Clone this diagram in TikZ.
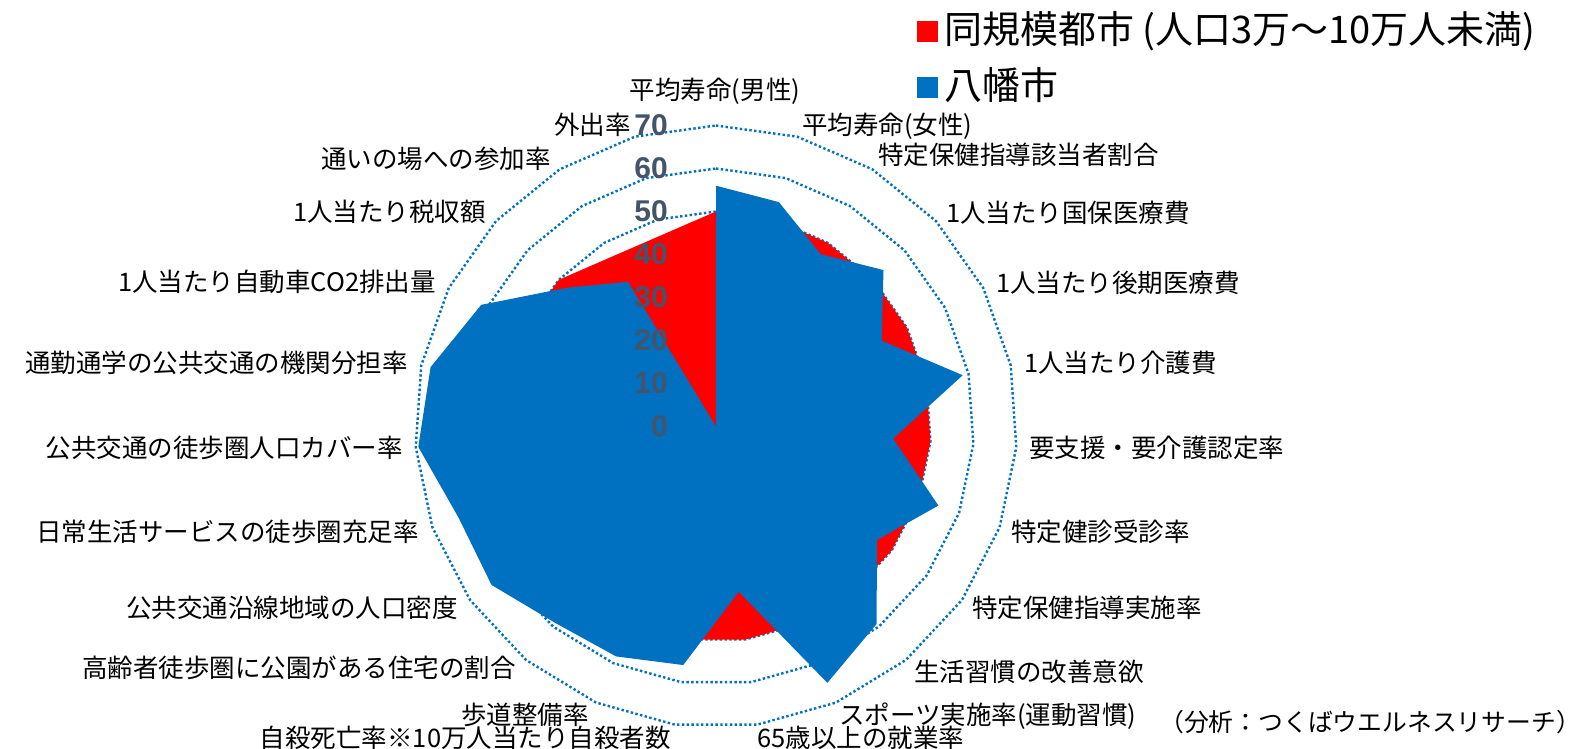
\documentclass[tikz,border=0pt]{standalone}
\usepackage{fontspec}
\newfontfamily\jpfont{Noto Sans CJK JP}
\newfontfamily\numfont{Liberation Sans}
\definecolor{yawata}{RGB}{0,112,192}
\definecolor{peer}{RGB}{255,0,0}
\definecolor{ticktext}{RGB}{68,84,106}
\tikzset{
  gridline/.style={yawata, line width=2.4pt, dash pattern=on 2.4pt off 2.4pt},
  catlabel/.style={inner sep=0pt, font=\jpfont\fontsize{25.5}{30}\selectfont},
  ticklabel/.style={inner sep=0pt, anchor=east, text=ticktext, font=\numfont\bfseries\fontsize{30}{34}\selectfont},
  legendtext/.style={inner sep=0pt, anchor=base west, font=\jpfont\fontsize{38}{42}\selectfont},
  legendkey/.style={inner sep=0pt, minimum size=21pt},
}
\def\unitr{4.3}

\begin{document}
\begin{tikzpicture}[x=1pt, y=-1pt]
  \useasboundingbox (0,0) rectangle (1583,748);
  \fill[white] (0,0) rectangle (1583,748);
  \begin{scope}[shift={(716,426.5)}]
    % grid polygons, 23 axes
    \foreach \r in {10,20,...,70} {
        \draw[gridline] (-90:{\r*\unitr}) \foreach \k in {1,...,22} { -- ({-90+\k*360/23}:{\r*\unitr}) } -- cycle;
      }
    % same-size cities
    \fill[peer] (-90:{50*\unitr})
      \foreach \v [count=\i from 0] in {50,50,50,50,50,50,50,50,50,50,50,50,50,50,50,50,50,50,50,50,50,46.3,46.3} {
        -- ({-90+\i*360/23}:{\v*\unitr})
      } -- cycle;
    % Yawata
    \fill[yawata] (-90:{56*\unitr})
      \foreach \v [count=\i from 0] in {56.0,54.2,46.9,53.3,43.4,58.6,41.3,54.9,45.8,59.2,65.0,38.8,56.0,58.3,59.0,63.9,63.5,69.4,67.8,61.5,47.3,39.4,0} {
        -- ({-90+\i*360/23}:{\v*\unitr})
      } -- cycle;
  \end{scope}
  % value axis
  \foreach \t in {0,10,...,70} {
      \node[ticklabel] (tick\t) at (668, {426.5-\t*\unitr}) {\t};
    }
  % category labels
  \node[catlabel, anchor=base] (lab0) at (715,99.5) {平均寿命(男性)};
  \node[catlabel, anchor=base west] (lab1) at (802,134.5) {平均寿命(女性)};
  \node[catlabel, anchor=base west] (lab2) at (878,164.5) {特定保健指導該当者割合};
  \node[catlabel, anchor=base west] (lab3) at (946,222.5) {1人当たり国保医療費};
  \node[catlabel, anchor=base west] (lab4) at (996,292.5) {1人当たり後期医療費};
  \node[catlabel, anchor=base west] (lab5) at (1024,372.5) {1人当たり介護費};
  \node[catlabel, anchor=base west] (lab6) at (1029,457.5) {要支援・要介護認定率};
  \node[catlabel, anchor=base west] (lab7) at (1011,541.5) {特定健診受診率};
  \node[catlabel, anchor=base west] (lab8) at (972,617.5) {特定保健指導実施率};
  \node[catlabel, anchor=base west] (lab9) at (914,681.5) {生活習慣の改善意欲};
  \node[catlabel, anchor=base west] (lab10) at (839,724.5) {スポーツ実施率(運動習慣)};
  \node[catlabel, anchor=base west] (lab11) at (757,747.5) {65歳以上の就業率};
  \node[catlabel, anchor=base east] (lab12) at (671,747.5) {自殺死亡率※10万人当たり自殺者数};
  \node[catlabel, anchor=base east] (lab13) at (589,724.5) {歩道整備率};
  \node[catlabel, anchor=base east] (lab14) at (516,677.5) {高齢者徒歩圏に公園がある住宅の割合};
  \node[catlabel, anchor=base east] (lab15) at (458,617.5) {公共交通沿線地域の人口密度};
  \node[catlabel, anchor=base east] (lab16) at (419,541.5) {日常生活サービスの徒歩圏充足率};
  \node[catlabel, anchor=base east] (lab17) at (403,457.5) {公共交通の徒歩圏人口カバー率};
  \node[catlabel, anchor=base east] (lab18) at (408,372.5) {通勤通学の公共交通の機関分担率};
  \node[catlabel, anchor=base east] (lab19) at (436,291.5) {1人当たり自動車CO2排出量};
  \node[catlabel, anchor=base east] (lab20) at (486,221.5) {1人当たり税収額};
  \node[catlabel, anchor=base east] (lab21) at (551,168.5) {通いの場への参加率};
  \node[catlabel, anchor=base east] (lab22) at (631,134.5) {外出率};
  % legend
  \node[legendkey, fill=peer] (keypeer) at (927,31) {};
  \node[legendtext] (textpeer) at (944,43) {同規模都市 (人口3万～10万人未満)};
  \node[legendkey, fill=yawata] (keyyawata) at (927,87.5) {};
  \node[legendtext] (textyawata) at (944,99) {八幡市};
  % source
  \node[catlabel, anchor=base, font=\jpfont\fontsize{24.8}{30}\selectfont] (source) at (1370,731) {（分析：つくばウエルネスリサーチ）};
\end{tikzpicture}
\end{document}
